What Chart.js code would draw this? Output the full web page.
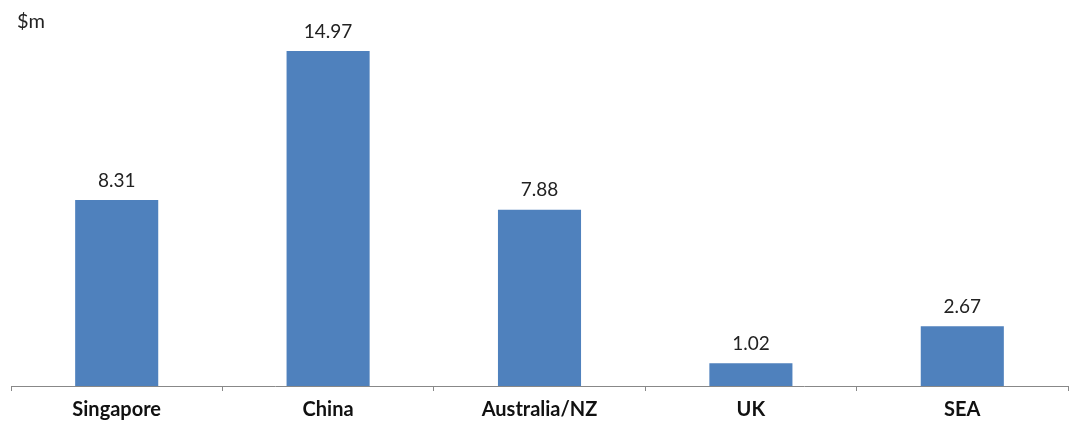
<!DOCTYPE html>
<html>
<head>
<meta charset="utf-8">
<script src="https://cdn.jsdelivr.net/npm/chart.js@4"></script>
<style>
  html, body { margin: 0; padding: 0; background: #fff; }
  #wrap { width: 1070px; height: 430px; }
</style>
</head>
<body>
<div id="wrap"><canvas id="grafico"></canvas></div>
<script>
// dados do gráfico
const regioes = ['Singapore', 'China', 'Australia/NZ', 'UK', 'SEA'];
const valores = [8.31, 14.97, 7.88, 1.02, 2.67];
const unidade = '$m';

// rótulos de valor acima das barras
const rotulosValor = {
    id: 'rotulosValor',
    afterDatasetsDraw(chart) {
        const ctx = chart.ctx;
        const meta = chart.getDatasetMeta(0);
        ctx.save();
        ctx.font = '19px Lato, "Open Sans", sans-serif';
        ctx.fillStyle = '#222';
        ctx.textAlign = 'center';
        ctx.textBaseline = 'bottom';
        meta.data.forEach((barra, i) => {
            ctx.fillText(valores[i].toFixed(2), barra.x, barra.y - 10);
        });
        // unidade no canto
        ctx.font = '20px Lato, "Open Sans", sans-serif';
        ctx.textAlign = 'left';
        ctx.textBaseline = 'middle';
        ctx.fillText(unidade, 17, 22);
        ctx.restore();
    }
};

const ctx = document.getElementById('grafico').getContext('2d');

new Chart(ctx, {
    type: 'bar',
    data: {
        labels: regioes,
        datasets: [{
            data: valores,
            backgroundColor: '#4f81bd',
            borderWidth: 0,
            categoryPercentage: 1,
            barPercentage: 0.393
        }]
    },
    options: {
        responsive: true,
        maintainAspectRatio: false,
        animation: false,
        layout: {
            padding: { left: 11, right: 2, top: 28, bottom: 1 }
        },
        plugins: {
            legend: { display: false },
            tooltip: { enabled: false }
        },
        scales: {
            y: {
                display: false,
                min: 0,
                max: 16
            },
            x: {
                grid: {
                    offset: true,
                    drawOnChartArea: false,
                    tickLength: 5,
                    color: '#888'
                },
                border: { color: '#888', width: 1 },
                ticks: {
                    color: '#111',
                    padding: 7,
                    font: { family: 'Lato, "Open Sans", sans-serif', size: 20, weight: 'bold' }
                }
            }
        }
    },
    plugins: [rotulosValor]
});
</script>
</body>
</html>
